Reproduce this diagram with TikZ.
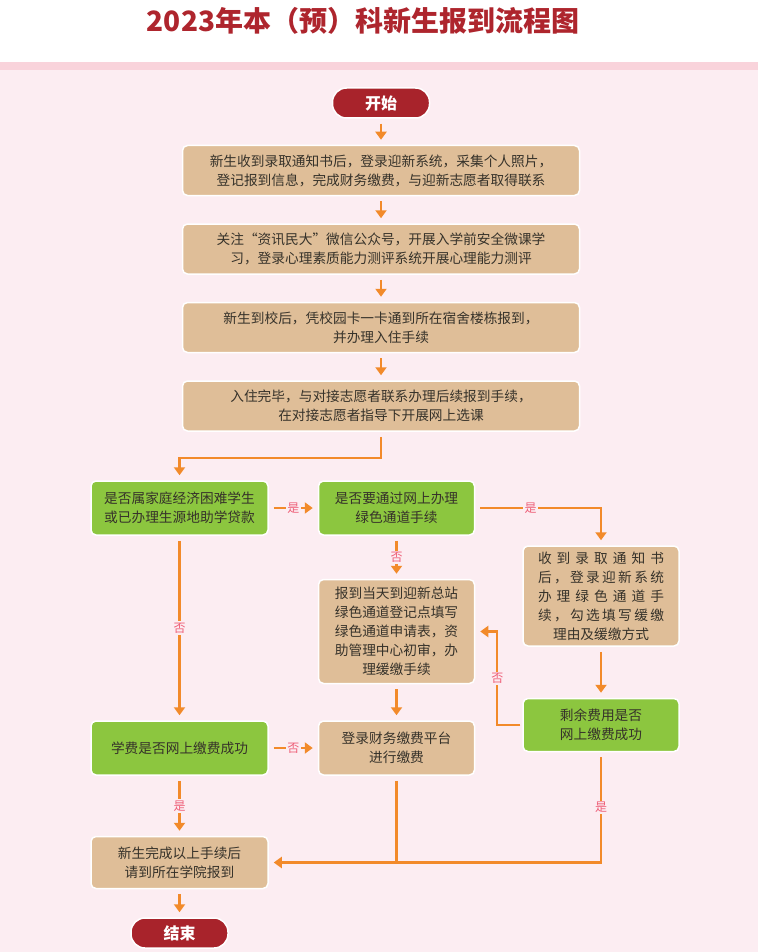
\documentclass[tikz,border=0pt]{standalone}
\usepackage{fontspec}
\setmainfont{Noto Sans CJK SC}
\usepackage{xcolor}
\usetikzlibrary{arrows.meta, positioning, calc}

\definecolor{bgpink}{HTML}{FCEDF2}
\definecolor{stripe}{HTML}{F9D3DB}
\definecolor{titlered}{HTML}{AE252D}
\definecolor{pillred}{HTML}{A8232B}
\definecolor{tan}{HTML}{DFBE98}
\definecolor{leaf}{HTML}{8CC63F}
\definecolor{line}{HTML}{F28A2A}
\definecolor{lblpink}{HTML}{EE5F78}
\definecolor{ink}{HTML}{36322A}

\makeatletter
\newcommand\spreadline[1]{\hbox to 126pt{\@tfor\nextchar:=#1\do{\nextchar\hfil}\unskip}}
\makeatother

\begin{document}
\begin{tikzpicture}[
    x=1pt, y=1pt,
    node distance=27pt,
    box/.style={
        rectangle,
        rounded corners=5pt,
        draw=white,
        line width=1.5pt,
        fill=tan,
        text=ink,
        minimum width=156pt,
        minimum height=54pt,
        align=center,
        font=\fontsize{13.7}{19}\selectfont
    },
    check/.style={box, fill=leaf},
    wide/.style={minimum width=397pt, minimum height=50pt},
    pill/.style={
        rectangle,
        rounded corners=14pt,
        draw=white,
        line width=1.5pt,
        fill=pillred,
        text=white,
        minimum width=97pt,
        minimum height=30pt,
        font=\fontsize{16}{18}\selectfont\bfseries
    },
    arrow/.style={
        -{Triangle[length=8pt, width=11pt]},
        line width=2.3pt,
        draw=line,
        shorten <=5pt,
        shorten >=5pt
    },
    link/.style={line width=2.3pt, draw=line, shorten <=5pt},
    lbl/.style={fill=bgpink, text=lblpink, inner sep=1.5pt, font=\fontsize{12}{12}\selectfont}
]
% Background and title
\useasboundingbox (0,0) rectangle (758,-952);
\fill[white] (0,0) rectangle (758,-62);
\fill[stripe] (0,-62) rectangle (758,-70);
\fill[bgpink] (0,-70) rectangle (758,-952);
\node[text=titlered, font=\fontsize{28}{30}\selectfont\bfseries] (title) at (363,-21) {2023年本（预）科新生报到流程图};

% Main column
\node[pill] (start) at (381,-103) {开始};
\node[box, wide, below=26pt of start] (notice) {新生收到录取通知书后，登录迎新系统，采集个人照片，\\登记报到信息，完成财务缴费，与迎新志愿者取得联系};
\node[box, wide, below=of notice] (wechat) {关注“资讯民大”微信公众号，开展入学前安全微课学\\习，登录心理素质能力测评系统开展心理能力测评};
\node[box, wide, below=of wechat] (dorm) {新生到校后，凭校园卡一卡通到所在宿舍楼栋报到，\\并办理入住手续};
\node[box, wide, below=of dorm] (course) {入住完毕，与对接志愿者联系办理后续报到手续，\\在对接志愿者指导下开展网上选课};

% Decisions and steps
\node[check, minimum width=177pt] (hardship) at (179.5,-508) {是否属家庭经济困难学生\\或已办理生源地助学贷款};
\node[check, right=49pt of hardship] (greenway) {是否要通过网上办理\\绿色通道手续};
\node[box, minimum height=100pt] (online) at (601,-596) {\spreadline{收到录取通知书}\\\spreadline{后，登录迎新系统}\\\spreadline{办理绿色通道手}\\\spreadline{续，勾选填写缓缴}\\理由及缓缴方式};
\node[box, minimum height=104pt, below=43pt of greenway] (onsite) {报到当天到迎新总站\\绿色通道登记点填写\\绿色通道申请表，资\\助管理中心初审，办\\理缓缴手续};
\node[check, minimum height=53pt, below=51pt of online] (remain) {剩余费用是否\\网上缴费成功};
\node[box, below=36pt of onsite] (paying) {登录财务缴费平台\\进行缴费};
\node[check, minimum width=177pt, left=49pt of paying] (tuition) {学费是否网上缴费成功};
\node[box, minimum width=177pt, minimum height=52pt, below=60pt of tuition] (college) {新生完成以上手续后\\请到所在学院报到};
\node[pill, below=28pt of college] (finish) {结束};

% Arrows
\draw[arrow] (start) -- (notice);
\draw[arrow] (notice) -- (wechat);
\draw[arrow] (wechat) -- (dorm);
\draw[arrow] (dorm) -- (course);
\coordinate (split) at ($(course.south)+(0,-26)$);
\draw[arrow] (course.south) -- (split) -| (hardship.north);
\draw[arrow] (hardship) -- node[lbl] {是} (greenway);
\draw[arrow] (greenway.east) -| node[lbl, pos=0.22] {是} (online.north);
\draw[arrow] (greenway) -- node[lbl] {否} (onsite);
\draw[arrow] (online) -- (remain);
\draw[arrow, shorten <=2pt] (remain.west) -- ++(-25,0) |- node[lbl, pos=0.25] {否} (onsite.east);
\draw[arrow] (onsite) -- (paying);
\draw[arrow] (hardship) -- node[lbl] {否} (tuition);
\draw[arrow] (tuition) -- node[lbl] {否} (paying);
\draw[arrow] (tuition) -- node[lbl] {是} (college);
\draw[link] (paying.south) -- (paying.south |- college.east);
\draw[arrow] (remain.south) -- node[lbl] {是} (remain.south |- college.east) -- (college.east);
\draw[arrow] (college) -- (finish);
\end{tikzpicture}
\end{document}
